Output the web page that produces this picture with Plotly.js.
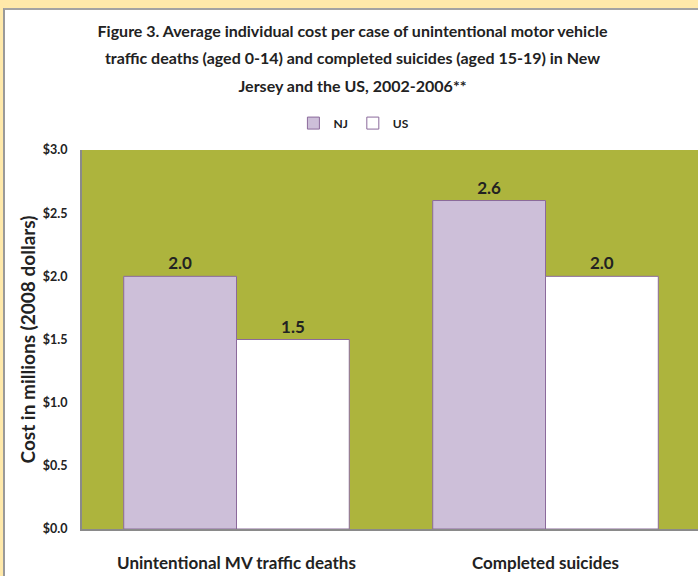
<!DOCTYPE html>
<html>
<head>
<meta charset="utf-8">
<script src="https://cdn.plot.ly/plotly-3.0.1.min.js"></script>
<style>
  html, body { margin:0; padding:0; background:#FFE9AA; overflow:hidden; width:698px; height:576px; }
  #chart { position:absolute; left:3px; top:8px; width:695px; height:568px;
           border-left:2px solid #9a9a9a; border-top:2px solid #a3a3a3; background:#fff; }
</style>
</head>
<body>
<div id="chart"></div>
<script>
const categories = ["Unintentional MV traffic deaths", "Completed suicides"];
const njValues = [2.0, 2.6];
const usValues = [1.5, 2.0];
const seriesNames = ["NJ", "US"];
const titleLines = [
  "Figure 3. Average individual cost per case of unintentional motor vehicle",
  "traffic deaths (aged 0-14) and completed suicides (aged 15-19) in New",
  "Jersey and the US, 2002-2006**"
];
const yTitle = "Cost in millions (2008 dollars)";

const FONT = 'Lato, "Open Sans", sans-serif';
const txt = '#222222';

const traces = [
  {
    type: 'bar', name: seriesNames[0], x: categories, y: njValues,
    marker: { color: '#CDBFD9', line: { color: '#8B6A9B', width: 1 } },
    texttemplate: '%{y:.1f}', textposition: 'outside', cliponaxis: false,
    textfont: { family: FONT, size: 17, color: txt, weight: 'bold' },
    hoverinfo: 'skip'
  },
  {
    type: 'bar', name: seriesNames[1], x: categories, y: usValues,
    marker: { color: '#FFFFFF', line: { color: '#8B6A9B', width: 1 } },
    texttemplate: '%{y:.1f}', textposition: 'outside', cliponaxis: false,
    textfont: { family: FONT, size: 17, color: txt, weight: 'bold' },
    hoverinfo: 'skip'
  }
];

const layout = {
  width: 695, height: 568,
  margin: { l: 77, r: 0, t: 140, b: 49, pad: 0, autoexpand: false },
  paper_bgcolor: 'rgba(0,0,0,0)',
  plot_bgcolor: '#ADB43D',
  font: { family: FONT, color: txt },
  showlegend: true,
  title: {
    text: titleLines.map(s => '<span style="font-size:16px">' + s + '</span>').join('<br>'),
    font: { family: FONT, size: 21, color: txt, weight: 'bold' },
    x: 0.5, xanchor: 'center', xref: 'container',
    y: 1, yref: 'container', yanchor: 'top', pad: { t: 27 }
  },
  legend: {
    orientation: 'h', x: 0.44, xanchor: 'center', xref: 'paper',
    y: 1.071, yref: 'paper', yanchor: 'middle',
    font: { family: FONT, size: 12, color: txt, weight: 'bold' },
    itemwidth: 30, tracegroupgap: 0, bgcolor: 'rgba(0,0,0,0)'
  },
  barmode: 'group', bargap: 0.27, bargroupgap: 0,
  xaxis: {
    type: 'category', showgrid: false, zeroline: false, automargin: false,
    showline: true, linecolor: '#8a8a8a', linewidth: 2, tickangle: 0,
    ticks: '', ticklabelstandoff: 18,
    tickfont: { family: FONT, size: 17, color: txt, weight: 'bold' }
  },
  yaxis: {
    range: [0, 3], dtick: 0.5, tick0: 0, tickformat: '$.1f', automargin: true,
    showgrid: false, zeroline: false,
    showline: true, linecolor: '#8a8a8a', linewidth: 2,
    ticks: '', ticklabelstandoff: 10,
    tickfont: { family: FONT, size: 12.5, color: txt, weight: 'bold' },
    title: { text: yTitle, standoff: 2, font: { family: FONT, size: 19, color: txt, weight: 'bold' } }
  }
};

Plotly.newPlot('chart', traces, layout, { displayModeBar: false, staticPlot: true });
</script>
</body>
</html>
